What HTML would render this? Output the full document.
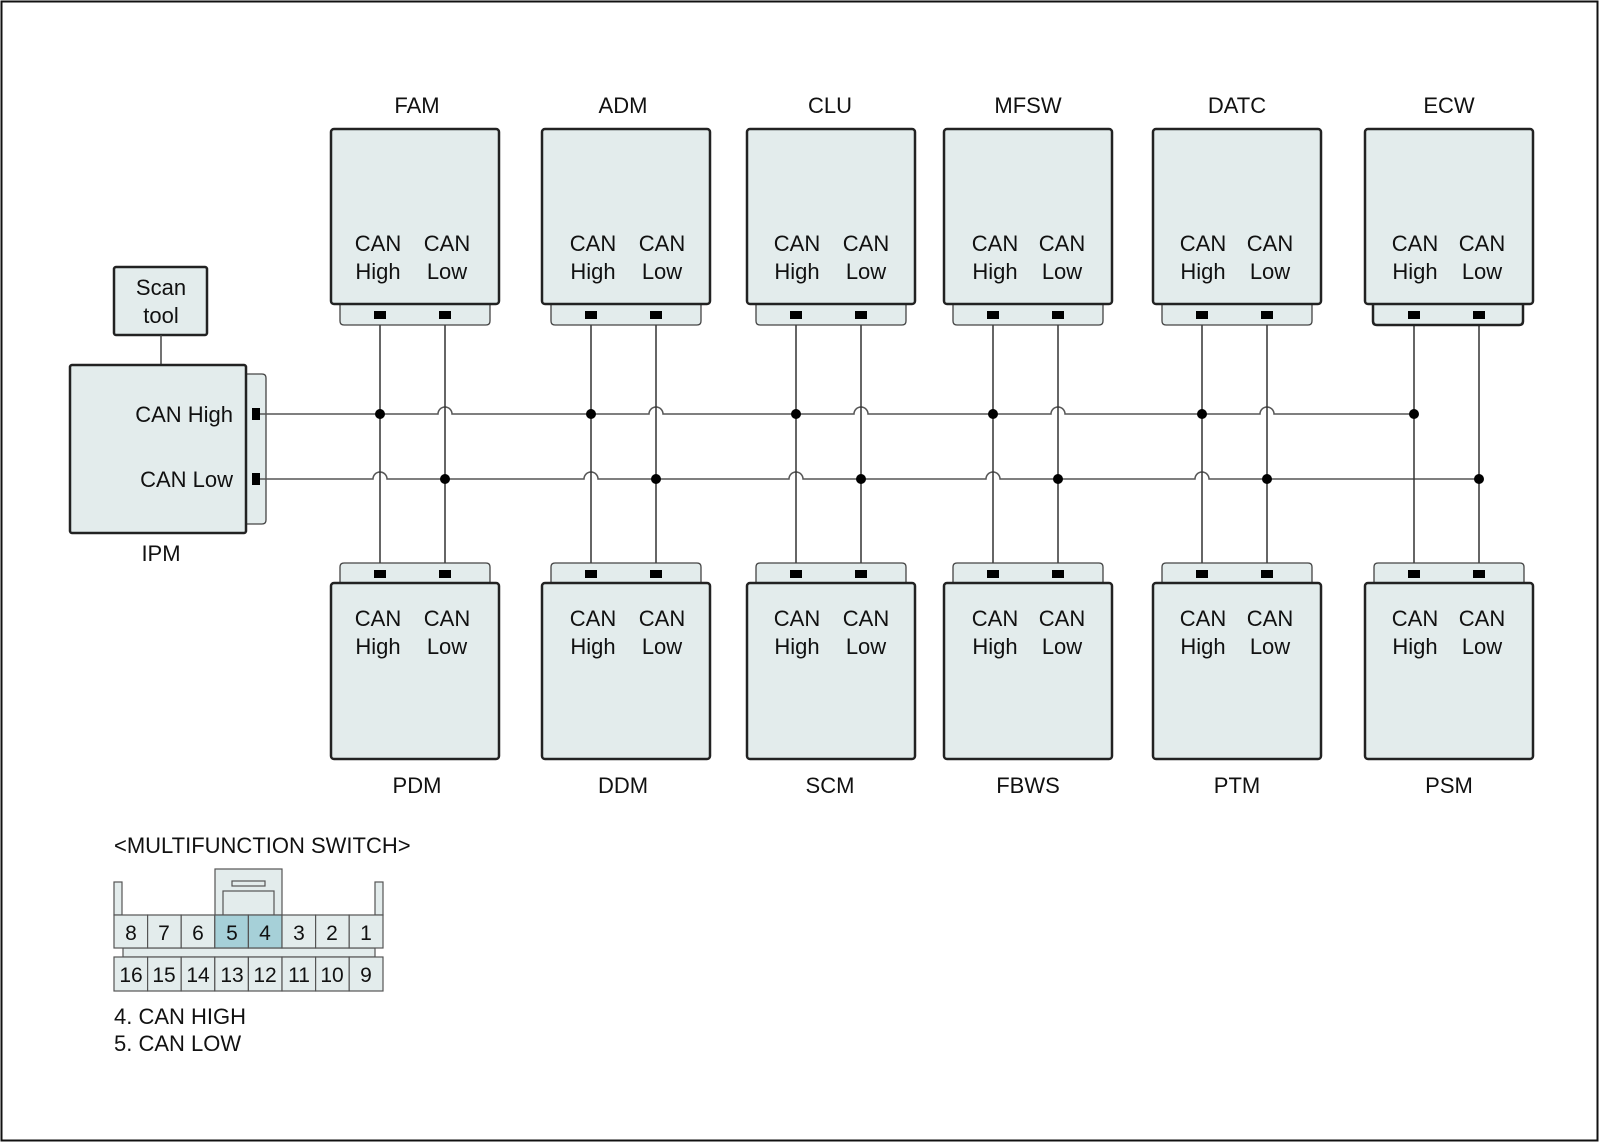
<!DOCTYPE html>
<html><head><meta charset="utf-8"><style>
html,body{margin:0;padding:0;background:#fff}
svg{display:block}
text{font-family:"Liberation Sans",Arial,sans-serif;fill:#111}
</style></head><body>
<svg width="1600" height="1143" viewBox="0 0 1600 1143" xmlns="http://www.w3.org/2000/svg">
<rect x="1.5" y="1.5" width="1596" height="1139" fill="#fff" stroke="#111" stroke-width="2"/>

<!-- Scan tool -->
<rect x="114" y="267" width="93" height="68" rx="2" fill="#e3ecec" stroke="#222" stroke-width="2.5"/>
<text x="161" y="295" font-size="22" text-anchor="middle" fill="#444">Scan</text>
<text x="161" y="323" font-size="22" text-anchor="middle" fill="#444">tool</text>
<line x1="161" y1="335" x2="161" y2="365" stroke="#444" stroke-width="1.5"/>

<!-- IPM -->
<path d="M246 374 H262 Q266 374 266 378 V520 Q266 524 262 524 H246 Z" fill="#e3ecec" stroke="#444" stroke-width="1.3"/>
<rect x="70" y="365" width="176" height="168" rx="2" fill="#e3ecec" stroke="#222" stroke-width="2.5"/>
<text x="233" y="422" font-size="22" text-anchor="end">CAN High</text>
<text x="233" y="487" font-size="22" text-anchor="end">CAN Low</text>
<text x="161" y="561" font-size="22" text-anchor="middle">IPM</text>
<rect x="252" y="408" width="8" height="12" fill="#000"/>
<rect x="252" y="473" width="8" height="12" fill="#000"/>

<g stroke="#555" stroke-width="1.5" fill="none">
<path d="M260 414 H438 A7 7 0 0 1 452 414 H649 A7 7 0 0 1 663 414 H854 A7 7 0 0 1 868 414 H1051 A7 7 0 0 1 1065 414 H1260 A7 7 0 0 1 1274 414 H1413"/>
<path d="M260 479 H373 A7 7 0 0 1 387 479 H584 A7 7 0 0 1 598 479 H789 A7 7 0 0 1 803 479 H986 A7 7 0 0 1 1000 479 H1195 A7 7 0 0 1 1209 479 H1480"/>
</g>

<g stroke="#333" stroke-width="1.5" fill="none">
<line x1="380" y1="318" x2="380" y2="570"/><line x1="445" y1="318" x2="445" y2="570"/>
<line x1="591" y1="318" x2="591" y2="570"/><line x1="656" y1="318" x2="656" y2="570"/>
<line x1="796" y1="318" x2="796" y2="570"/><line x1="861" y1="318" x2="861" y2="570"/>
<line x1="993" y1="318" x2="993" y2="570"/><line x1="1058" y1="318" x2="1058" y2="570"/>
<line x1="1202" y1="318" x2="1202" y2="570"/><line x1="1267" y1="318" x2="1267" y2="570"/>
<line x1="1414" y1="318" x2="1414" y2="570"/><line x1="1479" y1="318" x2="1479" y2="570"/>
</g>
<g fill="#000">
<circle cx="380" cy="414" r="5"/><circle cx="591" cy="414" r="5"/><circle cx="796" cy="414" r="5"/><circle cx="993" cy="414" r="5"/><circle cx="1202" cy="414" r="5"/><circle cx="1414" cy="414" r="5"/>
<circle cx="445" cy="479" r="5"/><circle cx="656" cy="479" r="5"/><circle cx="861" cy="479" r="5"/><circle cx="1058" cy="479" r="5"/><circle cx="1267" cy="479" r="5"/><circle cx="1479" cy="479" r="5"/>
</g>

<g>
<g transform="translate(331,0)">
<path d="M9 304 V321 Q9 325 13 325 H155 Q159 325 159 321 V304" fill="#e3ecec" stroke="#444" stroke-width="1.3"/>
<rect x="0" y="129" width="168" height="175" rx="3" fill="#e3ecec" stroke="#222" stroke-width="2.5"/>
<path d="M9 583 V567 Q9 563 13 563 H155 Q159 563 159 567 V583" fill="#e3ecec" stroke="#444" stroke-width="1.3"/>
<rect x="0" y="583" width="168" height="176" rx="3" fill="#e3ecec" stroke="#222" stroke-width="2.5"/>
</g>
<g transform="translate(542,0)">
<path d="M9 304 V321 Q9 325 13 325 H155 Q159 325 159 321 V304" fill="#e3ecec" stroke="#444" stroke-width="1.3"/>
<rect x="0" y="129" width="168" height="175" rx="3" fill="#e3ecec" stroke="#222" stroke-width="2.5"/>
<path d="M9 583 V567 Q9 563 13 563 H155 Q159 563 159 567 V583" fill="#e3ecec" stroke="#444" stroke-width="1.3"/>
<rect x="0" y="583" width="168" height="176" rx="3" fill="#e3ecec" stroke="#222" stroke-width="2.5"/>
</g>
<g transform="translate(747,0)">
<path d="M9 304 V321 Q9 325 13 325 H155 Q159 325 159 321 V304" fill="#e3ecec" stroke="#444" stroke-width="1.3"/>
<rect x="0" y="129" width="168" height="175" rx="3" fill="#e3ecec" stroke="#222" stroke-width="2.5"/>
<path d="M9 583 V567 Q9 563 13 563 H155 Q159 563 159 567 V583" fill="#e3ecec" stroke="#444" stroke-width="1.3"/>
<rect x="0" y="583" width="168" height="176" rx="3" fill="#e3ecec" stroke="#222" stroke-width="2.5"/>
</g>
<g transform="translate(944,0)">
<path d="M9 304 V321 Q9 325 13 325 H155 Q159 325 159 321 V304" fill="#e3ecec" stroke="#444" stroke-width="1.3"/>
<rect x="0" y="129" width="168" height="175" rx="3" fill="#e3ecec" stroke="#222" stroke-width="2.5"/>
<path d="M9 583 V567 Q9 563 13 563 H155 Q159 563 159 567 V583" fill="#e3ecec" stroke="#444" stroke-width="1.3"/>
<rect x="0" y="583" width="168" height="176" rx="3" fill="#e3ecec" stroke="#222" stroke-width="2.5"/>
</g>
<g transform="translate(1153,0)">
<path d="M9 304 V321 Q9 325 13 325 H155 Q159 325 159 321 V304" fill="#e3ecec" stroke="#444" stroke-width="1.3"/>
<rect x="0" y="129" width="168" height="175" rx="3" fill="#e3ecec" stroke="#222" stroke-width="2.5"/>
<path d="M9 583 V567 Q9 563 13 563 H155 Q159 563 159 567 V583" fill="#e3ecec" stroke="#444" stroke-width="1.3"/>
<rect x="0" y="583" width="168" height="176" rx="3" fill="#e3ecec" stroke="#222" stroke-width="2.5"/>
</g>
<g transform="translate(1365,0)">
<path d="M8 304 V321 Q8 325 12 325 H154 Q158 325 158 321 V304" fill="#e3ecec" stroke="#222" stroke-width="2.5"/>
<rect x="0" y="129" width="168" height="175" rx="3" fill="#e3ecec" stroke="#222" stroke-width="2.5"/>
<path d="M9 583 V567 Q9 563 13 563 H155 Q159 563 159 567 V583" fill="#e3ecec" stroke="#444" stroke-width="1.3"/>
<rect x="0" y="583" width="168" height="176" rx="3" fill="#e3ecec" stroke="#222" stroke-width="2.5"/>
</g>
</g>

<g fill="#000">
<rect x="374" y="311" width="12" height="8"/><rect x="439" y="311" width="12" height="8"/>
<rect x="585" y="311" width="12" height="8"/><rect x="650" y="311" width="12" height="8"/>
<rect x="790" y="311" width="12" height="8"/><rect x="855" y="311" width="12" height="8"/>
<rect x="987" y="311" width="12" height="8"/><rect x="1052" y="311" width="12" height="8"/>
<rect x="1196" y="311" width="12" height="8"/><rect x="1261" y="311" width="12" height="8"/>
<rect x="1408" y="311" width="12" height="8"/><rect x="1473" y="311" width="12" height="8"/>
<rect x="374" y="570" width="12" height="8"/><rect x="439" y="570" width="12" height="8"/>
<rect x="585" y="570" width="12" height="8"/><rect x="650" y="570" width="12" height="8"/>
<rect x="790" y="570" width="12" height="8"/><rect x="855" y="570" width="12" height="8"/>
<rect x="987" y="570" width="12" height="8"/><rect x="1052" y="570" width="12" height="8"/>
<rect x="1196" y="570" width="12" height="8"/><rect x="1261" y="570" width="12" height="8"/>
<rect x="1408" y="570" width="12" height="8"/><rect x="1473" y="570" width="12" height="8"/>
</g>

<g font-size="22" text-anchor="middle">
<text x="417" y="113">FAM</text><text x="623" y="113">ADM</text><text x="830" y="113">CLU</text>
<text x="1028" y="113">MFSW</text><text x="1237" y="113">DATC</text><text x="1449" y="113">ECW</text>
<text x="417" y="793">PDM</text><text x="623" y="793">DDM</text><text x="830" y="793">SCM</text>
<text x="1028" y="793">FBWS</text><text x="1237" y="793">PTM</text><text x="1449" y="793">PSM</text>
</g>
<g font-size="22" text-anchor="middle">
<text x="378" y="251">CAN</text><text x="447" y="251">CAN</text><text x="378" y="279">High</text><text x="447" y="279">Low</text>
<text x="593" y="251">CAN</text><text x="662" y="251">CAN</text><text x="593" y="279">High</text><text x="662" y="279">Low</text>
<text x="797" y="251">CAN</text><text x="866" y="251">CAN</text><text x="797" y="279">High</text><text x="866" y="279">Low</text>
<text x="995" y="251">CAN</text><text x="1062" y="251">CAN</text><text x="995" y="279">High</text><text x="1062" y="279">Low</text>
<text x="1203" y="251">CAN</text><text x="1270" y="251">CAN</text><text x="1203" y="279">High</text><text x="1270" y="279">Low</text>
<text x="1415" y="251">CAN</text><text x="1482" y="251">CAN</text><text x="1415" y="279">High</text><text x="1482" y="279">Low</text>

<text x="378" y="626">CAN</text><text x="447" y="626">CAN</text><text x="378" y="654">High</text><text x="447" y="654">Low</text>
<text x="593" y="626">CAN</text><text x="662" y="626">CAN</text><text x="593" y="654">High</text><text x="662" y="654">Low</text>
<text x="797" y="626">CAN</text><text x="866" y="626">CAN</text><text x="797" y="654">High</text><text x="866" y="654">Low</text>
<text x="995" y="626">CAN</text><text x="1062" y="626">CAN</text><text x="995" y="654">High</text><text x="1062" y="654">Low</text>
<text x="1203" y="626">CAN</text><text x="1270" y="626">CAN</text><text x="1203" y="654">High</text><text x="1270" y="654">Low</text>
<text x="1415" y="626">CAN</text><text x="1482" y="626">CAN</text><text x="1415" y="654">High</text><text x="1482" y="654">Low</text>
</g>

<text x="114" y="853" font-size="22">&lt;MULTIFUNCTION SWITCH&gt;</text>
<g stroke="#555" stroke-width="1.2" fill="#e3ecec">
<rect x="114" y="882" width="8" height="33"/>
<rect x="375" y="882" width="8" height="33"/>
<rect x="215" y="869" width="67" height="46"/>
<rect x="223" y="891" width="51" height="24"/>
<rect x="232" y="881" width="33" height="5"/>
<rect x="123" y="948" width="252" height="9"/>
</g>
<g stroke="#555" stroke-width="1.2">
<rect x="114" y="915" width="33.6" height="33" fill="#e3ecec"/>
<rect x="147.6" y="915" width="33.6" height="33" fill="#e3ecec"/>
<rect x="181.2" y="915" width="33.6" height="33" fill="#e3ecec"/>
<rect x="214.8" y="915" width="33.6" height="33" fill="#a6d0d8"/>
<rect x="248.4" y="915" width="33.6" height="33" fill="#a6d0d8"/>
<rect x="282" y="915" width="33.6" height="33" fill="#e3ecec"/>
<rect x="315.6" y="915" width="33.6" height="33" fill="#e3ecec"/>
<rect x="349.2" y="915" width="33.8" height="33" fill="#e3ecec"/>
<rect x="114" y="957" width="33.6" height="34" fill="#e3ecec"/>
<rect x="147.6" y="957" width="33.6" height="34" fill="#e3ecec"/>
<rect x="181.2" y="957" width="33.6" height="34" fill="#e3ecec"/>
<rect x="214.8" y="957" width="33.6" height="34" fill="#e3ecec"/>
<rect x="248.4" y="957" width="33.6" height="34" fill="#e3ecec"/>
<rect x="282" y="957" width="33.6" height="34" fill="#e3ecec"/>
<rect x="315.6" y="957" width="33.6" height="34" fill="#e3ecec"/>
<rect x="349.2" y="957" width="33.8" height="34" fill="#e3ecec"/>
</g>
<g font-size="21" text-anchor="middle">
<text x="131" y="940">8</text><text x="164" y="940">7</text><text x="198" y="940">6</text><text x="232" y="940">5</text>
<text x="265" y="940">4</text><text x="299" y="940">3</text><text x="332" y="940">2</text><text x="366" y="940">1</text>
<text x="131" y="982">16</text><text x="164" y="982">15</text><text x="198" y="982">14</text><text x="232" y="982">13</text>
<text x="265" y="982">12</text><text x="299" y="982">11</text><text x="332" y="982">10</text><text x="366" y="982">9</text>
</g>
<text x="114" y="1024" font-size="22">4. CAN HIGH</text>
<text x="114" y="1051" font-size="22">5. CAN LOW</text>
</svg>
</body></html>
